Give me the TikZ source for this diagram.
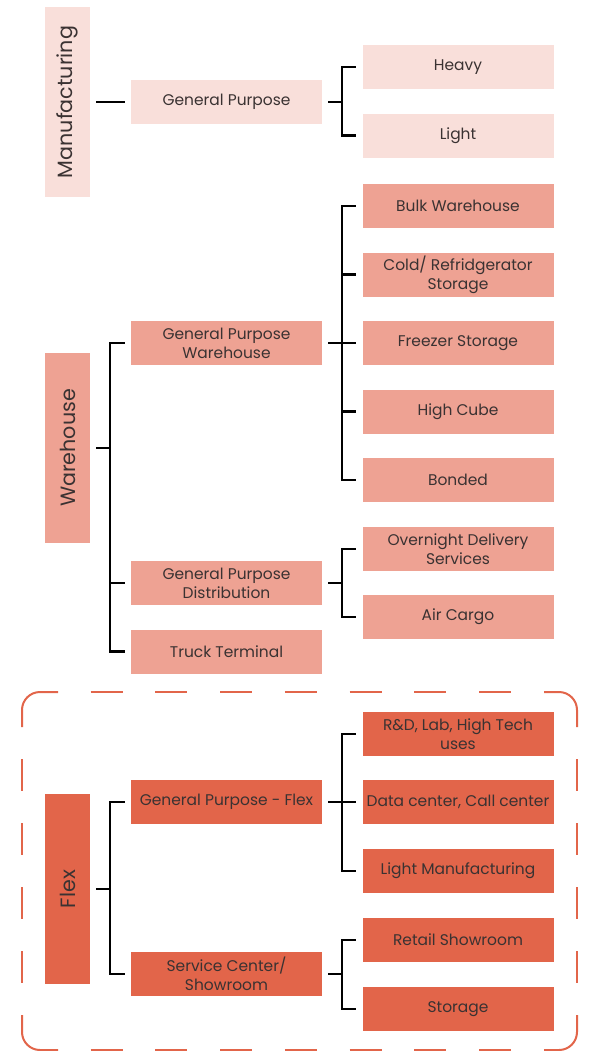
\documentclass[tikz,border=0pt]{standalone}
\usepackage{fontspec}
\setmainfont{Poppins}
\usetikzlibrary{positioning}

\definecolor{mfgpink}{HTML}{F9DFDA}
\definecolor{warerose}{HTML}{EEA293}
\definecolor{flexred}{HTML}{E2654A}
\definecolor{inkgray}{HTML}{3A3232}

\begin{document}
\begin{tikzpicture}[x=0.75pt, y=-0.75pt, node distance=18.4pt]
    \tikzstyle{item} = [rectangle, text=inkgray, minimum width=143.25pt, minimum height=33pt, inner sep=0pt, align=center, font=\fontsize{11.6}{14.25}\selectfont]
    \tikzstyle{cat} = [rectangle, text=inkgray, minimum width=33.75pt, minimum height=142.5pt, inner sep=0pt, font=\fontsize{15.5}{18}\selectfont]
    \tikzstyle{line} = [draw, black, line width=1.8pt]
    \tikzstyle{fork} = [line, shorten <=4.5pt, shorten >=4.5pt]
    \tikzstyle{frame} = [draw, flexred, line width=1.5pt, rounded corners=13.5pt]
    \tikzstyle{frameside} = [draw, flexred, line width=1.5pt, dash phase=24pt]

    \useasboundingbox (0,0) rectangle (591,1051);

    % flex frame: solid corners, dashed sides
    \path [frame] (22,727) -- (22,692) -- (58,692);
    \path [frame] (544,692) -- (577,692) -- (577,727);
    \path [frame] (577,1015) -- (577,1050) -- (544,1050);
    \path [frame] (58,1050) -- (22,1050) -- (22,1015);
    \path [frameside, dash pattern=on 24pt off 24.56pt] (58,692) -- (544,692);
    \path [frameside, dash pattern=on 24pt off 24.56pt] (58,1050) -- (544,1050);
    \path [frameside, dash pattern=on 24pt off 24pt] (22,727) -- (22,1015);
    \path [frameside, dash pattern=on 24pt off 24pt] (577,727) -- (577,1015);

    % manufacturing
    \node [cat, fill=mfgpink] (mfg) at (67.5,102) {\rotatebox{90}{Manufacturing}};
    \node [item, fill=mfgpink] (gp) at (226.5,102) {General Purpose};
    \node [item, fill=mfgpink] (heavy) at (458,67) {Heavy};
    \node [item, fill=mfgpink, below=18pt of heavy] (light) {Light};

    % warehouse
    \node [cat, fill=warerose] (whouse) at (67.5,448) {\rotatebox{90}{Warehouse}};
    \node [item, fill=warerose] (gpw) at (226.5,343) {General Purpose\\Warehouse};
    \node [item, fill=warerose] (gpd) at (226.5,583) {General Purpose\\Distribution};
    \node [item, fill=warerose, below=18pt of gpd] (truck) {Truck Terminal};
    \node [item, fill=warerose] (bulk) at (458,206) {Bulk Warehouse};
    \node [item, fill=warerose, below of=bulk, node distance=51.4pt] (cold) {Cold/ Refridgerator\\Storage};
    \node [item, fill=warerose, below of=cold, node distance=51.4pt] (freezer) {Freezer Storage};
    \node [item, fill=warerose, below of=freezer, node distance=51.4pt] (hicube) {High Cube};
    \node [item, fill=warerose, below of=hicube, node distance=51.4pt] (bonded) {Bonded};
    \node [item, fill=warerose] (overnight) at (458,549) {Overnight Delivery\\Services};
    \node [item, fill=warerose, below of=overnight, node distance=51pt] (aircargo) {Air Cargo};

    % flex
    \node [cat, fill=flexred] (flex) at (67.5,889) {\rotatebox{90}{Flex}};
    \node [item, fill=flexred] (gpflex) at (226.5,802) {General Purpose - Flex};
    \node [item, fill=flexred] (service) at (226.5,974) {Service Center/\\Showroom};
    \node [item, fill=flexred] (rnd) at (458,734) {R\&D, Lab, High Tech\\uses};
    \node [item, fill=flexred, below of=rnd, node distance=51pt] (datacenter) {Data center, Call center};
    \node [item, fill=flexred, below of=datacenter, node distance=51.75pt] (lightmfg) {Light Manufacturing};
    \node [item, fill=flexred] (retail) at (458,940) {Retail Showroom};
    \node [item, fill=flexred, below of=retail, node distance=51.75pt] (storage) {Storage};

    \path [fork] (mfg) -- (gp);
    \path [fork] (gp.east) -- ++(20,0) |- (heavy.west);
    \path [fork] (gp.east) -- ++(20,0) |- (light.west);

    \path [fork] (whouse.east) -- ++(20,0) |- (gpw.west);
    \path [fork] (whouse.east) -- ++(20,0) |- (gpd.west);
    \path [fork] (whouse.east) -- ++(20,0) |- (truck.west);
    \path [fork] (gpw.east) -- ++(20,0) |- (bulk.west);
    \path [fork] (gpw.east) -- ++(20,0) |- (cold.west);
    \path [fork] (gpw.east) -- ++(20,0) |- (freezer.west);
    \path [fork] (gpw.east) -- ++(20,0) |- (hicube.west);
    \path [fork] (gpw.east) -- ++(20,0) |- (bonded.west);
    \path [fork] (gpd.east) -- ++(20,0) |- (overnight.west);
    \path [fork] (gpd.east) -- ++(20,0) |- (aircargo.west);

    \path [fork] (flex.east) -- ++(20,0) |- (gpflex.west);
    \path [fork] (flex.east) -- ++(20,0) |- (service.west);
    \path [fork] (gpflex.east) -- ++(20,0) |- (rnd.west);
    \path [fork] (gpflex.east) -- ++(20,0) |- (datacenter.west);
    \path [fork] (gpflex.east) -- ++(20,0) |- (lightmfg.west);
    \path [fork] (service.east) -- ++(20,0) |- (retail.west);
    \path [fork] (service.east) -- ++(20,0) |- (storage.west);
\end{tikzpicture}
\end{document}
